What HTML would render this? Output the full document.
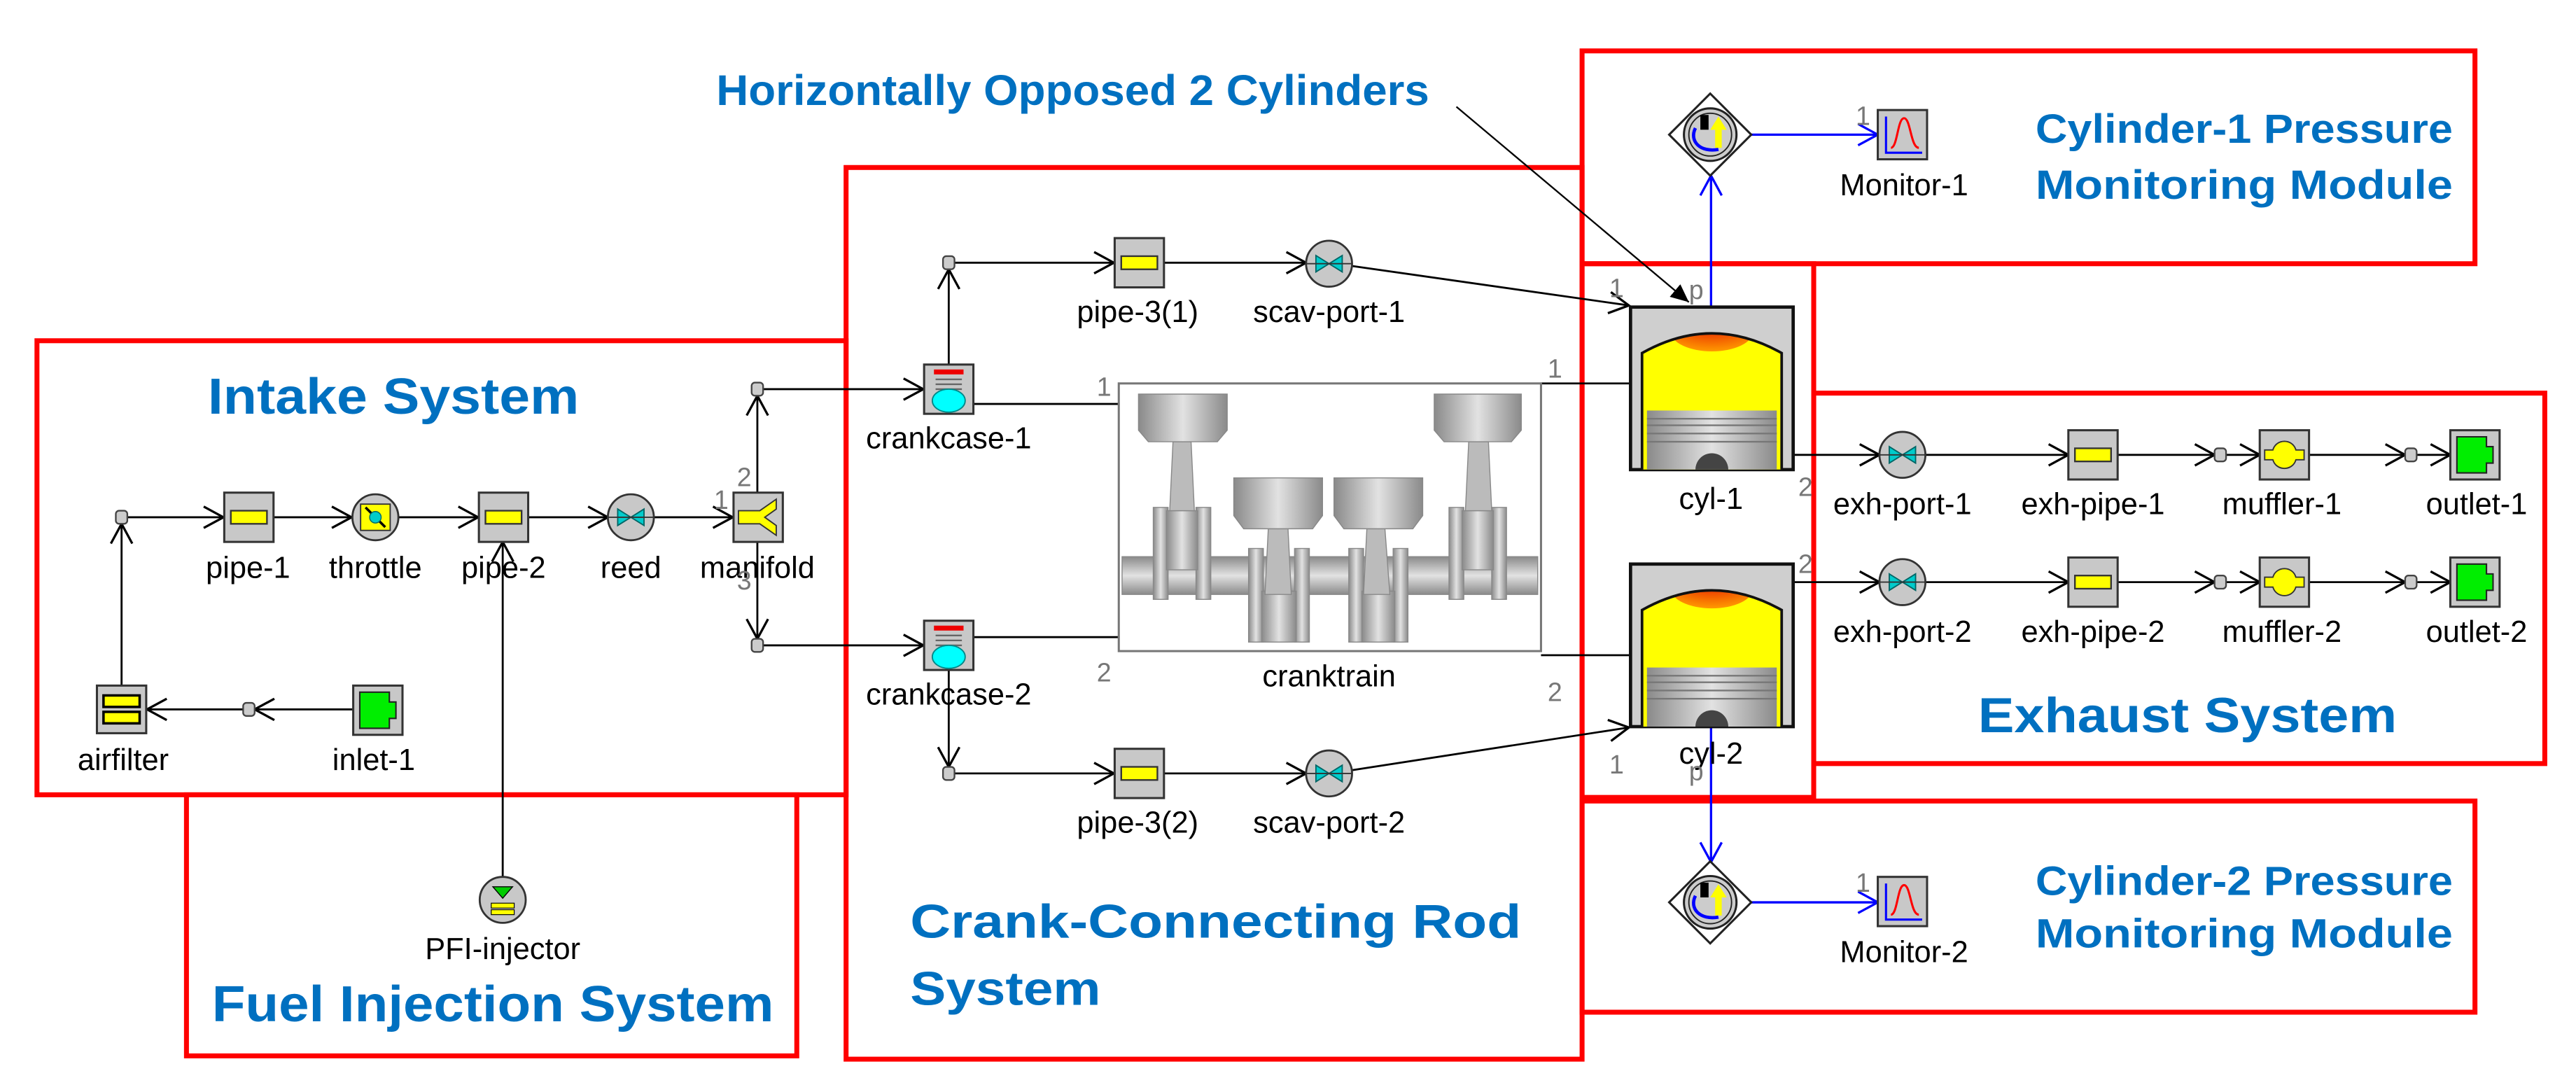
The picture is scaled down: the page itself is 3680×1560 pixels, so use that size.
<!DOCTYPE html>
<html><head><meta charset="utf-8"><style>html,body{margin:0;padding:0;background:#fff}svg{display:block}</style></head>
<body>
<svg xmlns="http://www.w3.org/2000/svg" width="3680" height="1560" viewBox="0 0 1568 665" preserveAspectRatio="none" font-family="'Liberation Sans', sans-serif">
<defs>
<marker id="a" markerWidth="16" markerHeight="16" refX="13" refY="8" orient="auto" markerUnits="userSpaceOnUse"><path d="M1,1.5 L13,8 L1,14.5" fill="none" stroke="#000" stroke-width="1.4"/></marker>
<marker id="b" markerWidth="16" markerHeight="16" refX="13" refY="8" orient="auto" markerUnits="userSpaceOnUse"><path d="M1,1.5 L13,8 L1,14.5" fill="none" stroke="#00f" stroke-width="1.4"/></marker>
<marker id="f" markerWidth="12" markerHeight="12" refX="11" refY="6" orient="auto" markerUnits="userSpaceOnUse"><path d="M0,1 L11,6 L0,11 Z" fill="#000"/></marker>
<linearGradient id="g" x1="0" x2="1" y1="0" y2="0"><stop offset="0" stop-color="#8a8a8a"/><stop offset="0.5" stop-color="#e2e2e2"/><stop offset="1" stop-color="#8a8a8a"/></linearGradient>
<linearGradient id="gv" x1="0" x2="0" y1="0" y2="1"><stop offset="0" stop-color="#8a8a8a"/><stop offset="0.5" stop-color="#e2e2e2"/><stop offset="1" stop-color="#8a8a8a"/></linearGradient>
<radialGradient id="rd" cx="0.5" cy="0.2" r="0.8"><stop offset="0" stop-color="#e00000"/><stop offset="1" stop-color="#ff9a00"/></radialGradient>
<g id="pipe"><rect x="0" y="0" width="30" height="30" fill="#c8c8c8" stroke="#333" stroke-width="1.3"/><rect x="4" y="11" width="22" height="8" fill="#ff0" stroke="#333" stroke-width="1"/></g>
<g id="jn"><rect x="-3.5" y="-4" width="7" height="8" rx="2" fill="#ccc" stroke="#444" stroke-width="1"/></g>
<g id="valve"><circle r="14" fill="#c8c8c8" stroke="#333" stroke-width="1.2"/><path d="M-8,-5 L8,5 L8,-5 L-8,5 Z" fill="#0cc" stroke="#066" stroke-width="0.8"/><line x1="-14" y1="0" x2="14" y2="0" stroke="#333" stroke-width="0.8"/></g>
<g id="cc"><rect x="0" y="0" width="30" height="30" fill="#c8c8c8" stroke="#333" stroke-width="1.3"/><rect x="6" y="3" width="18" height="3" fill="#e00"/><line x1="7" y1="9" x2="23" y2="9" stroke="#666"/><line x1="7" y1="12" x2="23" y2="12" stroke="#666"/><line x1="7" y1="15" x2="23" y2="15" stroke="#666"/><ellipse cx="15" cy="22" rx="10" ry="7" fill="#0ff" stroke="#088" stroke-width="0.8"/></g>
<g id="mon"><rect x="0" y="0" width="30" height="30" fill="#c8c8c8" stroke="#333" stroke-width="1.3"/><path d="M5,4 V26 H27" fill="none" stroke="#00f" stroke-width="1.3"/><path d="M8,23 C12,23 12,5 16,5 C20,5 20,23 25,23" fill="none" stroke="#f00" stroke-width="1.3"/></g>
<g id="sens"><path d="M0,-25 L25,0 L0,25 L-25,0 Z" fill="#fff" stroke="#222" stroke-width="1.3"/><circle r="16" fill="#ccc" stroke="#222" stroke-width="1.3"/><circle r="13" fill="none" stroke="#222" stroke-width="0.8"/><path d="M-9,-4 C-13,4 -6,11 5,9" fill="none" stroke="#00f" stroke-width="2"/><rect x="-6" y="-12" width="5" height="9" fill="#000"/><path d="M3,8 V-3 H0 L5,-11 L10,-3 H7 V8 Z" fill="#ff0"/></g>
<g id="outlet"><rect x="0" y="0" width="30" height="30" fill="#c8c8c8" stroke="#333" stroke-width="1.3"/><path d="M4,4 H22 V10 H26 V20 H22 V26 H4 Z" fill="#0e0" stroke="#222" stroke-width="0.9"/></g>
<g id="muff"><rect x="0" y="0" width="30" height="30" fill="#c8c8c8" stroke="#333" stroke-width="1.3"/><path d="M3,12 H8 C10,5 20,5 22,12 H27 V18 H22 C20,25 10,25 8,18 H3 Z" fill="#ff0" stroke="#333" stroke-width="0.8"/></g>
<clipPath id="dome"><path d="M7,99 V28 Q49.5,4 92,28 V99 Z"/></clipPath>
<g id="cyl"><rect x="0" y="0" width="99" height="99" fill="#cfcfcf" stroke="#111" stroke-width="2"/><g clip-path="url(#dome)"><rect x="0" y="0" width="99" height="99" fill="#ff0"/><ellipse cx="49.5" cy="15" rx="25" ry="12" fill="url(#rd)"/><rect x="10" y="63" width="79" height="36" fill="url(#g)"/><g stroke="#777" stroke-width="1"><line x1="10" y1="68" x2="89" y2="68"/><line x1="10" y1="72" x2="89" y2="72"/><line x1="10" y1="77" x2="89" y2="77"/><line x1="10" y1="82" x2="89" y2="82"/></g><circle cx="49.5" cy="99" r="10" fill="#444"/></g><path d="M7,99 V28 Q49.5,4 92,28 V99" fill="none" stroke="#111" stroke-width="1.6"/></g>
</defs>

<g fill="none" stroke="#f00" stroke-width="3">
<rect x="22.5" y="207.5" width="492.5" height="276.5"/>
<rect x="113.5" y="484" width="371.5" height="159"/>
<rect x="515" y="102" width="448" height="543"/>
<rect x="963" y="31" width="543.5" height="129.6"/>
<rect x="963" y="160.6" width="141" height="325"/>
<rect x="1104" y="239.4" width="445" height="225.6"/>
<rect x="963" y="487.8" width="543.5" height="128.6"/>
</g>

<g fill="#0070c0" font-weight="bold">
<text x="436" y="64" font-size="26" textLength="434" lengthAdjust="spacingAndGlyphs">Horizontally Opposed 2 Cylinders</text>
<text x="126.5" y="252" font-size="31" textLength="226" lengthAdjust="spacingAndGlyphs">Intake System</text>
<text x="129" y="622" font-size="31" textLength="342" lengthAdjust="spacingAndGlyphs">Fuel Injection System</text>
<text x="554" y="571" font-size="29" textLength="372" lengthAdjust="spacingAndGlyphs">Crank-Connecting Rod</text>
<text x="554" y="612" font-size="29" textLength="116" lengthAdjust="spacingAndGlyphs">System</text>
<text x="1239" y="87" font-size="25" textLength="254" lengthAdjust="spacingAndGlyphs">Cylinder-1 Pressure</text>
<text x="1239" y="121" font-size="25" textLength="254" lengthAdjust="spacingAndGlyphs">Monitoring Module</text>
<text x="1239" y="545" font-size="25" textLength="254" lengthAdjust="spacingAndGlyphs">Cylinder-2 Pressure</text>
<text x="1239" y="577" font-size="25" textLength="254" lengthAdjust="spacingAndGlyphs">Monitoring Module</text>
<text x="1204" y="446" font-size="30" textLength="255" lengthAdjust="spacingAndGlyphs">Exhaust  System</text>
</g>

<g stroke="#000" stroke-width="1.2" fill="none">
<line x1="74" y1="417" x2="74" y2="319" marker-end="url(#a)"/>
<line x1="77.5" y1="315" x2="136" y2="315" marker-end="url(#a)"/>
<line x1="166.5" y1="315" x2="214" y2="315" marker-end="url(#a)"/>
<line x1="242.5" y1="315" x2="291" y2="315" marker-end="url(#a)"/>
<line x1="321.5" y1="315" x2="370" y2="315" marker-end="url(#a)"/>
<line x1="398" y1="315" x2="446" y2="315" marker-end="url(#a)"/>
<line x1="461" y1="300" x2="461" y2="241" marker-end="url(#a)"/>
<line x1="461" y1="330" x2="461" y2="389" marker-end="url(#a)"/>
<line x1="464.5" y1="237" x2="562" y2="237" marker-end="url(#a)"/>
<line x1="464.5" y1="393" x2="562" y2="393" marker-end="url(#a)"/>
<line x1="215" y1="432" x2="155" y2="432" marker-end="url(#a)"/>
<line x1="148" y1="432" x2="89.5" y2="432" marker-end="url(#a)"/>
<line x1="306" y1="534" x2="306" y2="330" marker-end="url(#a)"/>
<line x1="577.5" y1="222" x2="577.5" y2="164" marker-end="url(#a)"/>
<line x1="581" y1="160" x2="678" y2="160" marker-end="url(#a)"/>
<line x1="708.5" y1="160" x2="795" y2="160" marker-end="url(#a)"/>
<line x1="823" y1="162" x2="991.5" y2="186" marker-end="url(#a)"/>
<line x1="592.5" y1="246" x2="681" y2="246"/>
<line x1="592.5" y1="388" x2="681" y2="388"/>
<line x1="577.5" y1="408" x2="577.5" y2="467" marker-end="url(#a)"/>
<line x1="581" y1="471" x2="678" y2="471" marker-end="url(#a)"/>
<line x1="708.5" y1="471" x2="795" y2="471" marker-end="url(#a)"/>
<line x1="823" y1="469" x2="991.5" y2="443" marker-end="url(#a)"/>
<line x1="938" y1="233.5" x2="992" y2="233.5"/>
<line x1="938" y1="399" x2="992" y2="399"/>
<line x1="1091.5" y1="277" x2="1144" y2="277" marker-end="url(#a)"/>
<line x1="1172" y1="277" x2="1259" y2="277" marker-end="url(#a)"/>
<line x1="1289" y1="277" x2="1348" y2="277" marker-end="url(#a)"/>
<line x1="1355" y1="277" x2="1375.5" y2="277" marker-end="url(#a)"/>
<line x1="1405.5" y1="277" x2="1464" y2="277" marker-end="url(#a)"/>
<line x1="1471" y1="277" x2="1491.5" y2="277" marker-end="url(#a)"/>
<line x1="1091.5" y1="354.5" x2="1144" y2="354.5" marker-end="url(#a)"/>
<line x1="1172" y1="354.5" x2="1259" y2="354.5" marker-end="url(#a)"/>
<line x1="1289" y1="354.5" x2="1348" y2="354.5" marker-end="url(#a)"/>
<line x1="1355" y1="354.5" x2="1375.5" y2="354.5" marker-end="url(#a)"/>
<line x1="1405.5" y1="354.5" x2="1464" y2="354.5" marker-end="url(#a)"/>
<line x1="1471" y1="354.5" x2="1491.5" y2="354.5" marker-end="url(#a)"/>
<line x1="886.5" y1="65" x2="1028" y2="184" stroke-width="1" marker-end="url(#f)"/>
</g>
<g stroke="#00f" stroke-width="1.4" fill="none">
<line x1="1041.5" y1="187" x2="1041.5" y2="107" marker-end="url(#b)"/>
<line x1="1065.5" y1="82" x2="1143" y2="82" marker-end="url(#b)"/>
<line x1="1041.5" y1="443" x2="1041.5" y2="525" marker-end="url(#b)"/>
<line x1="1065.5" y1="549.5" x2="1143" y2="549.5" marker-end="url(#b)"/>
</g>

<rect x="681" y="233.5" width="257" height="163" fill="#fff" stroke="#777" stroke-width="1.3"/>
<g stroke="#888" stroke-width="0.6">
<rect x="683" y="339" width="253" height="23" fill="url(#gv)"/>
<rect x="702" y="309" width="9" height="56" fill="url(#g)"/>
<rect x="728" y="309" width="9" height="56" fill="url(#g)"/>
<rect x="710" y="311" width="19" height="36" fill="url(#g)"/>
<rect x="760" y="334" width="9" height="57" fill="url(#g)"/>
<rect x="788" y="334" width="9" height="57" fill="url(#g)"/>
<rect x="768" y="360" width="21" height="31" fill="url(#g)"/>
<rect x="821" y="334" width="9" height="57" fill="url(#g)"/>
<rect x="848" y="334" width="9" height="57" fill="url(#g)"/>
<rect x="829" y="360" width="20" height="31" fill="url(#g)"/>
<rect x="882" y="309" width="9" height="56" fill="url(#g)"/>
<rect x="908" y="309" width="9" height="56" fill="url(#g)"/>
<rect x="890" y="311" width="19" height="36" fill="url(#g)"/>
<path d="M714,269 H725 L727,311 H712 Z" fill="#bbb"/>
<path d="M772,322 H784 L786,362 H770 Z" fill="#bbb"/>
<path d="M832,322 H843 L846,362 H830 Z" fill="#bbb"/>
<path d="M894,269 H906 L908,311 H892 Z" fill="#bbb"/>
<path d="M693,240 H747 V262 L741,269 H699 L693,262 Z" fill="url(#g)"/>
<path d="M751,291 H805 V314 L799,322 H757 L751,314 Z" fill="url(#g)"/>
<path d="M812,291 H866 V314 L860,322 H818 L812,314 Z" fill="url(#g)"/>
<path d="M873,240 H926 V262 L920,269 H879 L873,262 Z" fill="url(#g)"/>
</g>

<use href="#jn" x="74" y="315"/>
<use href="#pipe" x="136.5" y="300"/>
<g transform="translate(228.5,315)"><circle r="14" fill="#c8c8c8" stroke="#333" stroke-width="1.2"/><rect x="-9" y="-8" width="18" height="16" fill="#ff0" stroke="#333" stroke-width="0.8"/><line x1="-6" y1="-6" x2="6" y2="6" stroke="#000" stroke-width="1.5"/><circle r="3.5" fill="#0cc" stroke="#066" stroke-width="0.6"/></g>
<use href="#pipe" x="291.5" y="300"/>
<use href="#valve" x="384" y="315"/>
<g transform="translate(446.5,300)"><rect width="30" height="30" fill="#c8c8c8" stroke="#333" stroke-width="1.3"/><path d="M3,11 L16,11 L26,4 L26,10 L19,15 L26,20 L26,26 L16,19 L3,19 Z" fill="#ff0" stroke="#333" stroke-width="0.8"/></g>
<use href="#jn" x="461" y="237"/>
<use href="#jn" x="461" y="393"/>
<g transform="translate(59,417.5)"><rect width="30" height="29" fill="#c8c8c8" stroke="#333" stroke-width="1.3"/><rect x="4" y="6" width="22" height="7" fill="#ff0" stroke="#000" stroke-width="1.5"/><rect x="4" y="16" width="22" height="7" fill="#ff0" stroke="#000" stroke-width="1.5"/></g>
<use href="#jn" x="151.5" y="432"/>
<use href="#outlet" x="215" y="417.5"/>
<g transform="translate(306,548)"><circle r="14" fill="#c8c8c8" stroke="#333" stroke-width="1.2"/><path d="M-6,-8 H6 L0,-1 Z" fill="#0c0" stroke="#000" stroke-width="0.6"/><rect x="-7" y="2" width="14" height="3" fill="#ff0" stroke="#000" stroke-width="0.5"/><rect x="-7" y="6" width="14" height="3" fill="#ff0" stroke="#000" stroke-width="0.5"/></g>

<use href="#jn" x="577.5" y="160"/>
<use href="#jn" x="577.5" y="471"/>
<use href="#cc" x="562.5" y="222"/>
<use href="#cc" x="562.5" y="378"/>
<use href="#pipe" x="678.5" y="145"/>
<use href="#pipe" x="678.5" y="456"/>
<use href="#valve" x="809" y="160.6"/>
<use href="#valve" x="809" y="471"/>

<use href="#cyl" x="992.5" y="187"/>
<use href="#cyl" x="992.5" y="343.5"/>

<use href="#sens" x="1041" y="82"/>
<use href="#sens" x="1041" y="549.5"/>
<use href="#mon" x="1143" y="67"/>
<use href="#mon" x="1143" y="534"/>

<use href="#valve" x="1158" y="277"/>
<use href="#pipe" x="1259" y="262"/>
<use href="#jn" x="1351.5" y="277"/>
<use href="#muff" x="1375.5" y="262"/>
<use href="#jn" x="1467.5" y="277"/>
<use href="#outlet" x="1491.5" y="262"/>
<use href="#valve" x="1158" y="354.5"/>
<use href="#pipe" x="1259" y="339.5"/>
<use href="#jn" x="1351.5" y="354.5"/>
<use href="#muff" x="1375.5" y="339.5"/>
<use href="#jn" x="1467.5" y="354.5"/>
<use href="#outlet" x="1491.5" y="339.5"/>

<g font-size="18.5" fill="#000" text-anchor="middle">
<text x="151" y="352">pipe-1</text>
<text x="228.5" y="352">throttle</text>
<text x="306.5" y="352">pipe-2</text>
<text x="384" y="352">reed</text>
<text x="461" y="352">manifold</text>
<text x="75" y="469">airfilter</text>
<text x="227.5" y="469">inlet-1</text>
<text x="306" y="584">PFI-injector</text>
<text x="692.5" y="196">pipe-3(1)</text>
<text x="809" y="196">scav-port-1</text>
<text x="577.5" y="273">crankcase-1</text>
<text x="577.5" y="429">crankcase-2</text>
<text x="809" y="418">cranktrain</text>
<text x="692.5" y="507">pipe-3(2)</text>
<text x="809" y="507">scav-port-2</text>
<text x="1041.5" y="310">cyl-1</text>
<text x="1041.5" y="465">cyl-2</text>
<text x="1159" y="119">Monitor-1</text>
<text x="1159" y="586">Monitor-2</text>
<text x="1158" y="313">exh-port-1</text>
<text x="1274" y="313">exh-pipe-1</text>
<text x="1389" y="313">muffler-1</text>
<text x="1507.5" y="313">outlet-1</text>
<text x="1158" y="391">exh-port-2</text>
<text x="1274" y="391">exh-pipe-2</text>
<text x="1389" y="391">muffler-2</text>
<text x="1507.5" y="391">outlet-2</text>
</g>
<g font-size="16" fill="#777" text-anchor="middle">
<text x="453" y="296">2</text>
<text x="439" y="310">1</text>
<text x="453" y="359">3</text>
<text x="672" y="241">1</text>
<text x="672" y="415">2</text>
<text x="946.5" y="230">1</text>
<text x="946.5" y="427">2</text>
<text x="984" y="181">1</text>
<text x="1032.5" y="182">p</text>
<text x="984" y="471">1</text>
<text x="1032.5" y="475">p</text>
<text x="1099" y="302">2</text>
<text x="1099" y="349">2</text>
<text x="1134" y="76">1</text>
<text x="1134" y="543">1</text>
</g>
</svg>
</body></html>
